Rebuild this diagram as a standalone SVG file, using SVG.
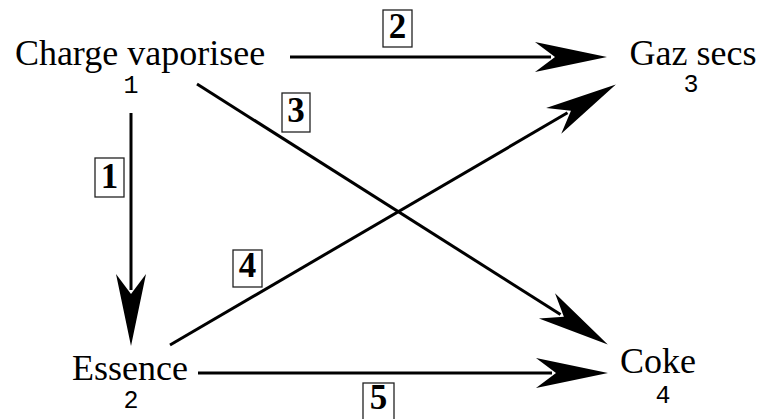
<svg xmlns="http://www.w3.org/2000/svg" width="764" height="419" viewBox="0 0 764 419">
<style>
.name{font-family:"Liberation Serif","Times New Roman",serif;font-size:36px;fill:#000;text-anchor:middle}
.num{font-family:"Liberation Mono",monospace;font-size:25px;fill:#000;text-anchor:middle}
.lbl{font-family:"Liberation Serif",serif;font-size:35px;font-weight:bold;fill:#000;text-anchor:middle}
.box{fill:none;stroke:#222;stroke-width:1.3}
.edge{fill:none;stroke:#000;stroke-width:3}
</style>
<defs>
<marker id="ah" markerUnits="userSpaceOnUse" markerWidth="100" markerHeight="40" viewBox="-20 -20 100 40" refX="0" refY="0" orient="auto" overflow="visible">
<path d="M56,0 L-16,-15 L4,0 L-16,15 Z" fill="#000"/>
</marker>
</defs>
<g id="connectors">
<path class="edge" d="M290,57 L551,57" marker-end="url(#ah)"/>
<path class="edge" d="M131,113 L131,290" marker-end="url(#ah)"/>
<path class="edge" d="M197,84 L560.5,314.5" marker-end="url(#ah)"/>
<path class="edge" d="M170,345 L567.5,112.8" marker-end="url(#ah)"/>
<path class="edge" d="M198,373 L552,373" marker-end="url(#ah)"/>
<g id="label1"><rect class="box" x="95" y="158" width="29" height="39"/><text class="lbl" x="109.5" y="188">1</text></g>
<g id="label2"><rect class="box" x="383" y="10" width="29" height="37"/><text class="lbl" x="397.5" y="38">2</text></g>
<g id="label3"><rect class="box" x="282" y="93" width="28" height="39"/><text class="lbl" x="296" y="122">3</text></g>
<g id="label4"><rect class="box" x="233" y="250" width="29" height="37"/><text class="lbl" x="247.5" y="277">4</text></g>
<g id="label5"><rect class="box" x="363" y="383" width="31" height="38"/><text class="lbl" x="378.5" y="409">5</text></g>
</g>
<g id="node1"><text class="name" x="140" y="65">Charge vaporisee</text><text class="num" x="131" y="93">1</text></g>
<g id="node2"><text class="name" x="130" y="380">Essence</text><text class="num" x="131" y="408">2</text></g>
<g id="node3"><text class="name" x="693" y="65">Gaz secs</text><text class="num" x="691" y="92">3</text></g>
<g id="node4"><text class="name" x="658" y="373">Coke</text><text class="num" x="663" y="403">4</text></g>
</svg>
